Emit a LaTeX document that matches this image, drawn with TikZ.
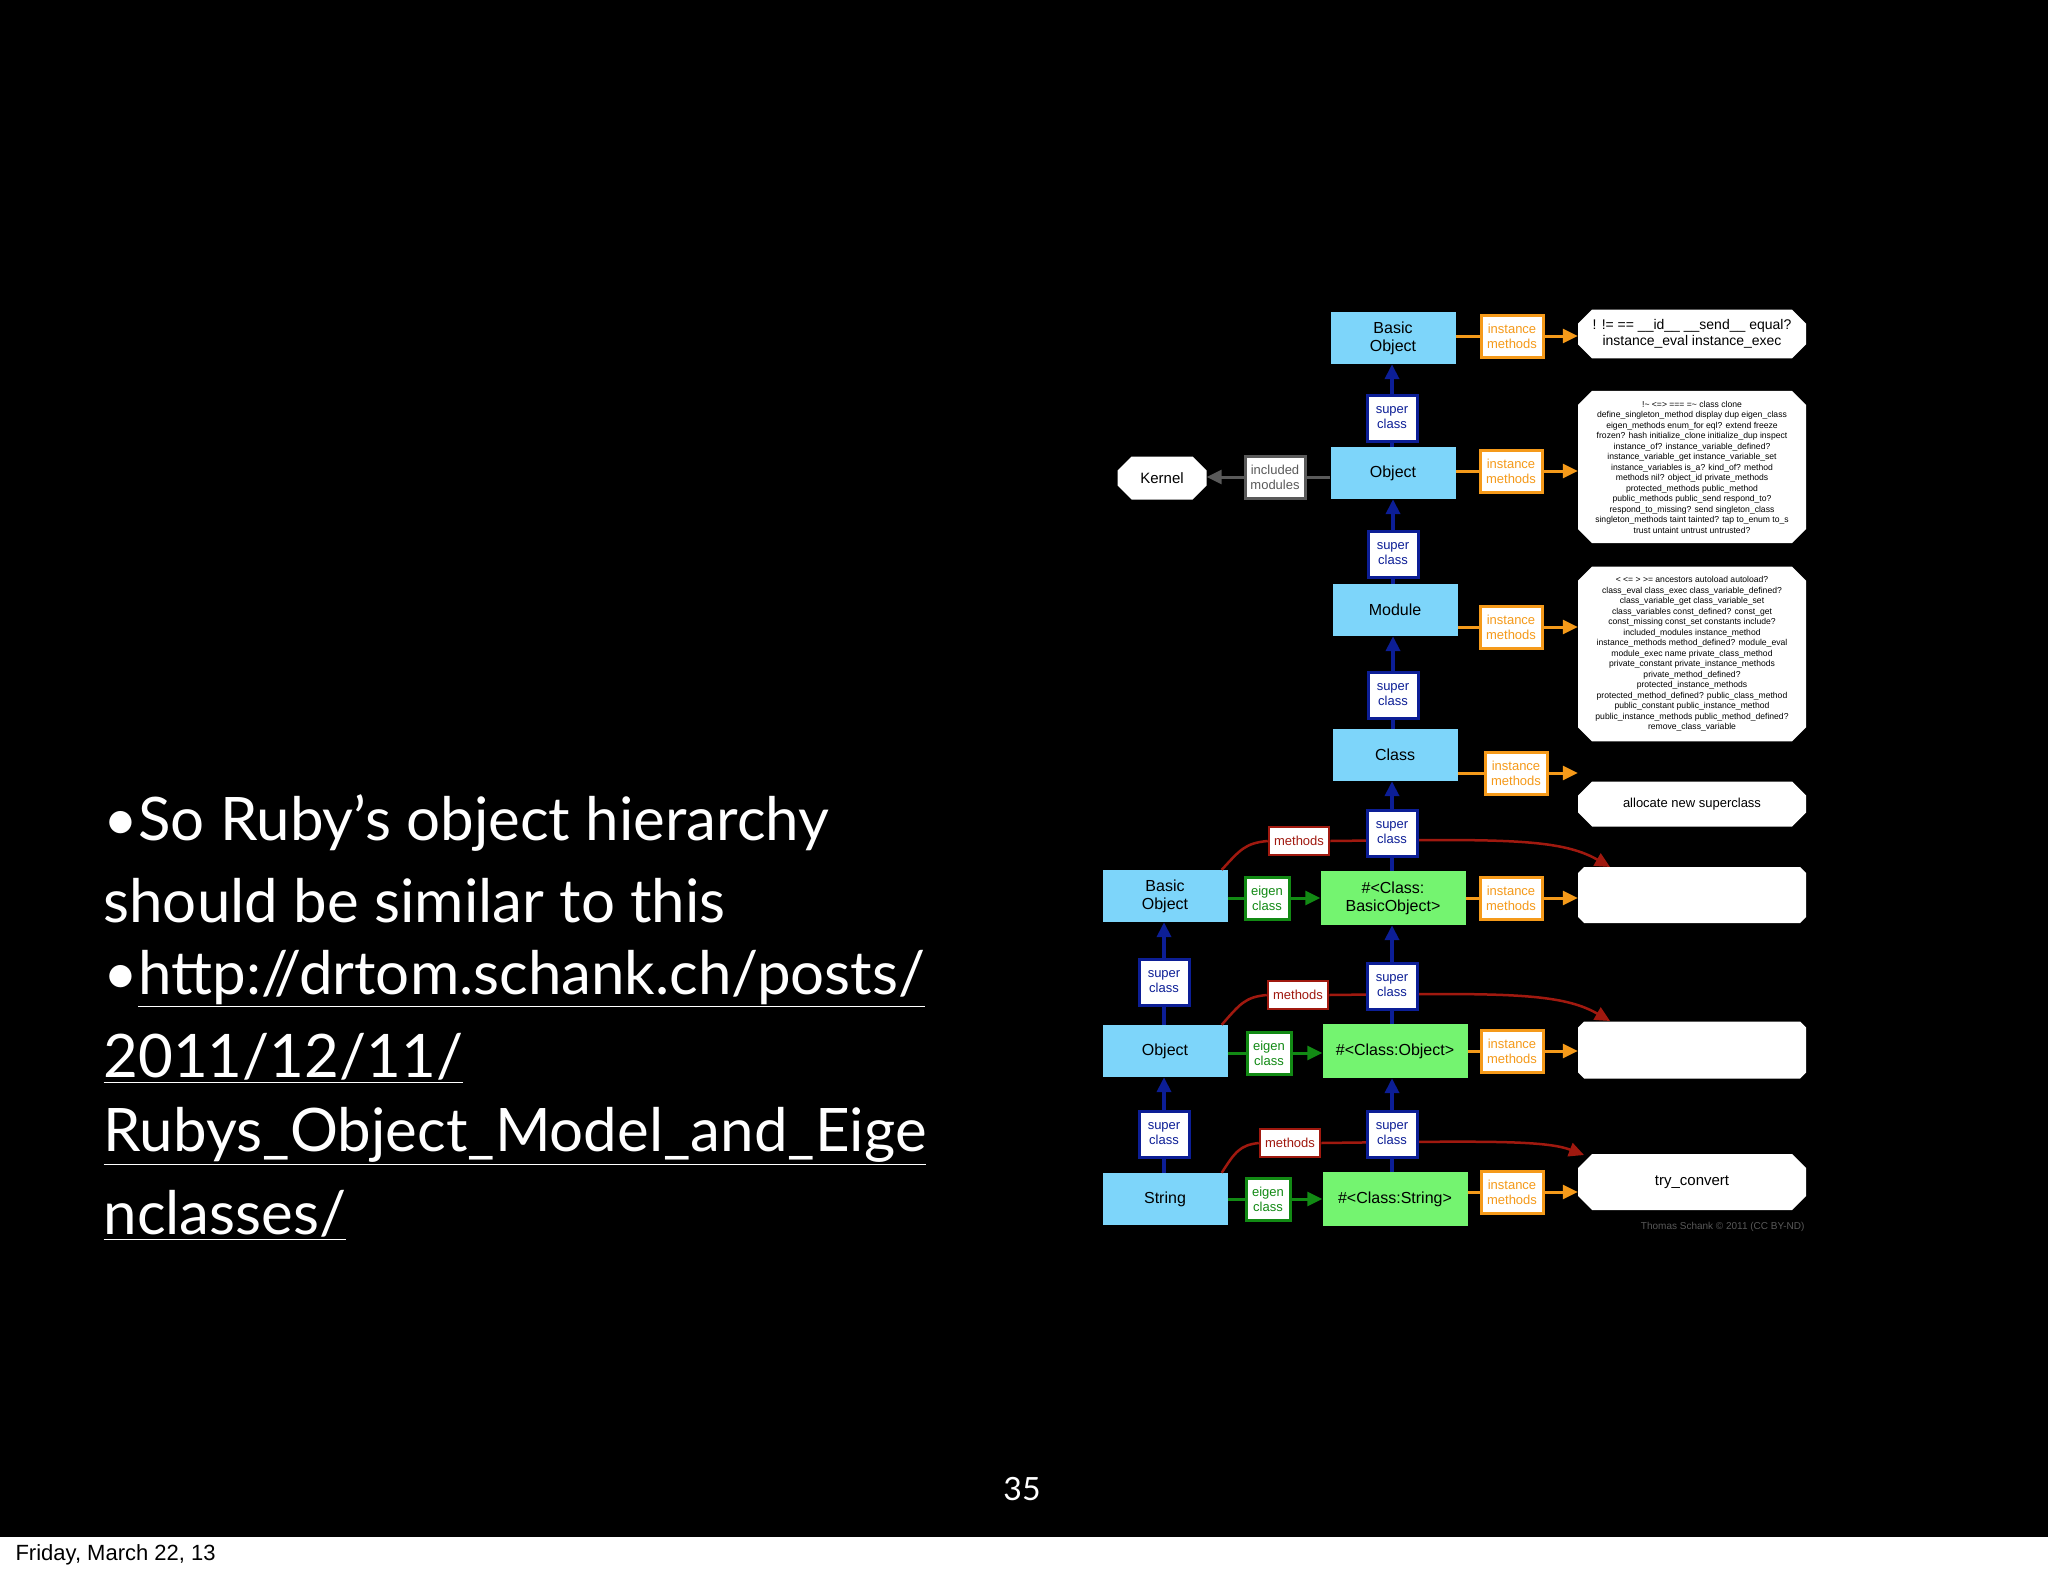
\documentclass[tikz,border=0pt]{standalone}
\usepackage{fontspec}
\setmainfont{Liberation Sans}
\newfontfamily\slidefont{Lato}
\usetikzlibrary{arrows.meta,shapes.misc}
\definecolor{skyb}{HTML}{7DD5FA}
\definecolor{lgreen}{HTML}{74F470}
\definecolor{scblue}{HTML}{0C1E96}
\definecolor{imorange}{HTML}{F59A1A}
\definecolor{ecgreen}{HTML}{128A14}
\definecolor{mtred}{HTML}{A0190F}
\definecolor{incgray}{HTML}{5A5A5A}
\begin{document}
\begin{tikzpicture}[x=1pt,y=-1pt,
  cls/.style={fill=skyb,minimum width=125pt,minimum height=52pt,inner sep=2pt,align=center,text=black,font=\fontsize{16}{18}\selectfont},
  eig/.style={cls,fill=lgreen,minimum width=145pt,minimum height=54pt},
  lab/.style={fill=white,line width=3pt,inner sep=2pt,align=center,minimum width=50pt,minimum height=46pt,font=\fontsize{13}{15}\selectfont},
  sc/.style={lab,draw=scblue,text=scblue},
  im/.style={lab,draw=imorange,text=imorange,minimum width=62pt,minimum height=42pt},
  ec/.style={lab,draw=ecgreen,text=ecgreen,minimum width=44pt,minimum height=42pt},
  mt/.style={lab,draw=mtred,text=mtred,minimum width=60pt,minimum height=28pt,line width=2.5pt},
  inc/.style={lab,draw=incgray,text=incgray,minimum width=60pt,minimum height=42pt},
  mbox/.style={chamfered rectangle,chamfered rectangle xsep=7pt,chamfered rectangle ysep=7pt,fill=white,inner sep=3pt,align=center,text=black,minimum width=228pt},
  tinyt/.style={font=\fontsize{8.6}{10.5}\selectfont},
  tip/.style={-{Triangle[length=15pt,width=14pt]}},
  scl/.style={draw=scblue,line width=4pt},
  iml/.style={draw=imorange,line width=3pt},
  ecl/.style={draw=ecgreen,line width=3pt},
  mtl/.style={draw=mtred,line width=2.5pt},
  incl/.style={draw=incgray,line width=3pt},
  slide/.style={text=white,anchor=west,font=\slidefont\fontsize{60}{72}\selectfont}]
\useasboundingbox (0,0) rectangle (2048,1576);
\fill[black] (0,0) rectangle (2048,1537);
\fill[white] (0,1537) rectangle (2048,1576);
\node[anchor=west,text=black,font=\fontsize{22}{24}\selectfont] (date) at (12,1555) {Friday, March 22, 13};
\node[text=white,font=\slidefont\fontsize{32}{36}\selectfont] (pg) at (1022,1489) {35};

% slide text
\node[slide] (t1) at (100,823) {•So Ruby’s object hierarchy};
\node[slide] (t2) at (100,901) {should be similar to this};
\node[slide] (t3) at (100,979) {•\underline{http://drtom.schank.ch/posts/}};
\node[slide] (t4) at (100,1058) {\underline{2011/12/11/}};
\node[slide] (t5) at (100,1136) {\underline{Rubys\_Object\_Model\_and\_Eige}};
\node[slide] (t6) at (100,1215) {\underline{nclasses/}};

% class nodes
\node[cls] (bo) at (1393,338) {Basic\\Object};
\node[cls] (ob) at (1393,473) {Object};
\node[cls] (mo) at (1395,610) {Module};
\node[cls] (cl) at (1395,755) {Class};
\node[cls] (lbo) at (1165,896) {Basic\\Object};
\node[cls] (lob) at (1165,1051) {Object};
\node[cls] (lst) at (1165,1199) {String};
\node[eig] (ebo) at (1393,898) {\#<Class:\\BasicObject>};
\node[eig] (eob) at (1395,1051) {\#<Class:Object>};
\node[eig] (est) at (1395,1199) {\#<Class:String>};

% method boxes
\node[mbox,font=\fontsize{14}{16}\selectfont,minimum height=44pt] (m1) at (1692,334) {! != == \_\_id\_\_ \_\_send\_\_ equal?\\instance\_eval instance\_exec};
\node[mbox,tinyt,minimum height=142pt] (m2) at (1692,467) {!\textasciitilde{} <=> === =\textasciitilde{} class clone\\define\_singleton\_method display dup eigen\_class\\eigen\_methods enum\_for eql? extend freeze\\frozen? hash initialize\_clone initialize\_dup inspect\\instance\_of? instance\_variable\_defined?\\instance\_variable\_get instance\_variable\_set\\instance\_variables is\_a? kind\_of? method\\methods nil? object\_id private\_methods\\protected\_methods public\_method\\public\_methods public\_send respond\_to?\\respond\_to\_missing? send singleton\_class\\singleton\_methods taint tainted? tap to\_enum to\_s\\trust untaint untrust untrusted?};
\node[mbox,tinyt,minimum height=172pt] (m3) at (1692,654) {< <= > >= ancestors autoload autoload?\\class\_eval class\_exec class\_variable\_defined?\\class\_variable\_get class\_variable\_set\\class\_variables const\_defined? const\_get\\const\_missing const\_set constants include?\\included\_modules instance\_method\\instance\_methods method\_defined? module\_eval\\module\_exec name private\_class\_method\\private\_constant private\_instance\_methods\\private\_method\_defined?\\protected\_instance\_methods\\protected\_method\_defined? public\_class\_method\\public\_constant public\_instance\_method\\public\_instance\_methods public\_method\_defined?\\remove\_class\_variable};
\node[mbox,font=\fontsize{13}{15}\selectfont,minimum height=45pt] (m4) at (1692,804) {allocate new superclass};
\node[mbox,minimum height=56pt] (m5) at (1692,895) {};
\node[mbox,minimum height=57pt] (m6) at (1692,1050) {};
\node[mbox,font=\fontsize{15}{17}\selectfont,minimum height=56pt] (m7) at (1692,1182) {try\_convert};
\node[mbox,font=\fontsize{15}{17}\selectfont,minimum width=89pt,minimum height=43pt] (ker) at (1162,478) {Kernel};
\node[anchor=east,text=gray!70!black,font=\fontsize{10}{12}\selectfont] (copy) at (1808,1227) {Thomas Schank © 2011 (CC BY-ND)};

% instance methods labels
\node[im] (i1) at (1512,336) {instance\\methods};
\node[im] (i2) at (1511,471) {instance\\methods};
\node[im] (i3) at (1511,627) {instance\\methods};
\node[im] (i4) at (1516,773) {instance\\methods};
\node[im] (i5) at (1511,898) {instance\\methods};
\node[im] (i6) at (1512,1051) {instance\\methods};
\node[im] (i7) at (1512,1192) {instance\\methods};
\foreach \a/\b/\c in {bo/i1/m1,ob/i2/m2,mo/i3/m3,cl/i4/m4,ebo/i5/m5,eob/i6/m6,est/i7/m7}{
  \draw[iml] (\a.east |- \b) -- (\b.west);
  \draw[iml,tip] (\b.east) -- (\c.west |- \b);
}

% included modules
\node[inc] (inm) at (1275,477) {included\\modules};
\draw[incl] (ob.west |- inm) -- (inm.east);
\draw[incl,tip] (inm.west) -- (ker.east |- inm);

% eigen class
\node[ec] (e1) at (1267,898) {eigen\\class};
\node[ec] (e2) at (1269,1053) {eigen\\class};
\node[ec] (e3) at (1268,1199) {eigen\\class};
\foreach \a/\b/\c in {lbo/e1/ebo,lob/e2/eob,lst/e3/est}{
  \draw[ecl] (\a.east |- \b) -- (\b.west);
  \draw[ecl,tip] (\b.east) -- (\c.west |- \b);
}

% methods red curves (drawn before superclass labels)
\coordinate (r1) at (1610,867);
\coordinate (r2) at (1610,1021);
\coordinate (r3) at (1584,1155);
\node[mt] (t1m) at (1299,841) {methods};
\node[mt] (t2m) at (1298,995) {methods};
\node[mt] (t3m) at (1290,1143) {methods};
\draw[mtl] ([xshift=-6pt]lbo.north east) .. controls (1240,850) and (1245,843) .. (t1m.west);
\draw[mtl,tip] (t1m.east) .. controls (1500,839) and (1560,838) .. (r1);
\draw[mtl] ([xshift=-6pt]lob.north east) .. controls (1240,1004) and (1245,997) .. (t2m.west);
\draw[mtl,tip] (t2m.east) .. controls (1500,993) and (1560,992) .. (r2);
\draw[mtl] ([xshift=-6pt]lst.north east) .. controls (1235,1152) and (1240,1145) .. (t3m.west);
\draw[mtl,tip] (t3m.east) .. controls (1480,1141) and (1545,1140) .. (r3);

% superclass
\node[sc] (s1) at (1392,418) {super\\class};
\node[sc] (s2) at (1393,554) {super\\class};
\node[sc] (s3) at (1393,695) {super\\class};
\node[sc] (s4) at (1392,833) {super\\class};
\node[sc] (s5) at (1392,986) {super\\class};
\node[sc] (s6) at (1392,1134) {super\\class};
\node[sc] (s7) at (1164,982) {super\\class};
\node[sc] (s8) at (1164,1134) {super\\class};
\foreach \lo/\s/\up in {ob/s1/bo,mo/s2/ob,cl/s3/mo,ebo/s4/cl,eob/s5/ebo,est/s6/eob,lob/s7/lbo,lst/s8/lob}{
  \draw[scl] (\lo.north -| \s) -- (\s.south);
  \draw[scl,tip] (\s.north) -- (\up.south -| \s);
}
\end{tikzpicture}
\end{document}
